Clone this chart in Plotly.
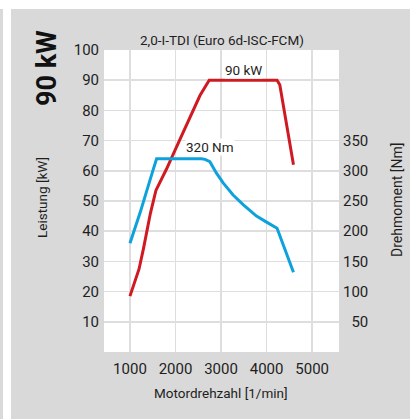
import plotly.graph_objects as go

# Data
rpm_power = [1000, 1200, 1300, 1450, 1570, 1800, 2100, 2300, 2540, 2740, 4230, 4290, 4590]
power_kw = [18.5, 27.5, 34.5, 46, 53.5, 60.5, 70.5, 77, 85, 90, 90, 88.5, 62]

rpm_torque = [1000, 1220, 1510, 1585, 2570, 2650, 2754, 2900, 3046, 3265, 3485, 3778, 4000, 4230, 4590]
torque_nm = [180, 230, 302, 320, 320, 319, 315, 296, 280, 260, 244, 225, 215, 205, 132]

x_ticks = [1000, 2000, 3000, 4000, 5000]
left_ticks = [10, 20, 30, 40, 50, 60, 70, 80, 90, 100]
right_ticks = [50, 100, 150, 200, 250, 300, 350]
right_ticktext = ["\u200750", "100", "150", "200", "250", "300", "350"]

title_text = "2,0-I-TDI (Euro 6d-ISC-FCM)"
power_label = "90 kW"
torque_label = "320 Nm"

W, H = 410, 419
L, R, T, B = 104, 71, 50, 67
PW, PH = W - L - R, H - T - B

def px(x):
    return (x - L) / PW

def py(y):
    return (H - B - y) / PH

FONT = "Roboto, sans-serif"
TXT = "#1e1e1e"
GRAY = "#d9d9d9"

fig = go.Figure()
fig.add_trace(go.Scatter(x=rpm_torque, y=torque_nm, yaxis="y2", mode="lines",
                         line=dict(color="#0ea2dc", width=3), hoverinfo="skip"))
fig.add_trace(go.Scatter(x=rpm_power, y=power_kw, mode="lines",
                         line=dict(color="#d01a22", width=3), hoverinfo="skip"))

fig.update_layout(
    width=W, height=H,
    margin=dict(l=L, r=R, t=T, b=B),
    paper_bgcolor=GRAY, plot_bgcolor="white",
    showlegend=False,
    font=dict(family=FONT, color=TXT, size=15),
    xaxis=dict(range=[430, 5590], tickvals=x_ticks, showgrid=True,
               gridcolor="#dedede", gridwidth=1.5, zeroline=False,
               ticks="", ticklabelstandoff=6, fixedrange=True,
               tickfont=dict(size=15)),
    yaxis=dict(range=[0, 100], tickvals=left_ticks, showgrid=True,
               gridcolor="#dedede", gridwidth=1.5, zeroline=False,
               ticks="", ticklabelstandoff=4, tickfont=dict(size=15)),
    yaxis2=dict(range=[0, 500], tickvals=right_ticks, ticktext=right_ticktext,
                overlaying="y", side="right", showgrid=False, zeroline=False,
                ticks="", ticklabelstandoff=3, tickfont=dict(size=15)),
    shapes=[
        dict(type="rect", xref="paper", yref="paper", x0=px(-5), x1=px(W + 5),
             y0=py(-5), y1=py(9), fillcolor="white", line=dict(width=0), layer="below"),
        dict(type="rect", xref="paper", yref="paper", x0=px(3), x1=px(11),
             y0=py(-5), y1=py(H + 5), fillcolor="white", line=dict(width=0), layer="below"),
    ],
    annotations=[
        dict(text=title_text, x=0.5, y=py(40), xref="paper", yref="paper",
             showarrow=False, font=dict(size=13.5), xanchor="center", yanchor="middle"),
        dict(text="<b>90 kW</b>", x=px(47), y=py(68), xref="paper", yref="paper",
             showarrow=False, textangle=-90, font=dict(size=27, color="#111"),
             xanchor="center", yanchor="middle"),
        dict(text="Leistung [kW]", x=px(42), y=py(198), xref="paper", yref="paper",
             showarrow=False, textangle=-90, font=dict(size=13.5),
             xanchor="center", yanchor="middle"),
        dict(text="Drehmoment [Nm]", x=px(397), y=py(200), xref="paper", yref="paper",
             showarrow=False, textangle=-90, font=dict(size=14),
             xanchor="center", yanchor="middle"),
        dict(text="Motordrehzahl [1/min]", x=px(221), y=py(393), xref="paper", yref="paper",
             showarrow=False, font=dict(size=13.5), xanchor="center", yanchor="middle"),
        dict(text=power_label, x=3485, y=93.3, xref="x", yref="y", showarrow=False,
             font=dict(size=13.5), bgcolor="white", borderpad=0),
        dict(text=torque_label, x=2748, y=340, xref="x", yref="y2", showarrow=False,
             font=dict(size=13.5), bgcolor="white", borderpad=0),
    ],
)

fig.write_html("out.html", config=dict(displayModeBar=False, staticPlot=True),
               post_script="document.body.style.margin='0';document.body.style.overflow='hidden';")
